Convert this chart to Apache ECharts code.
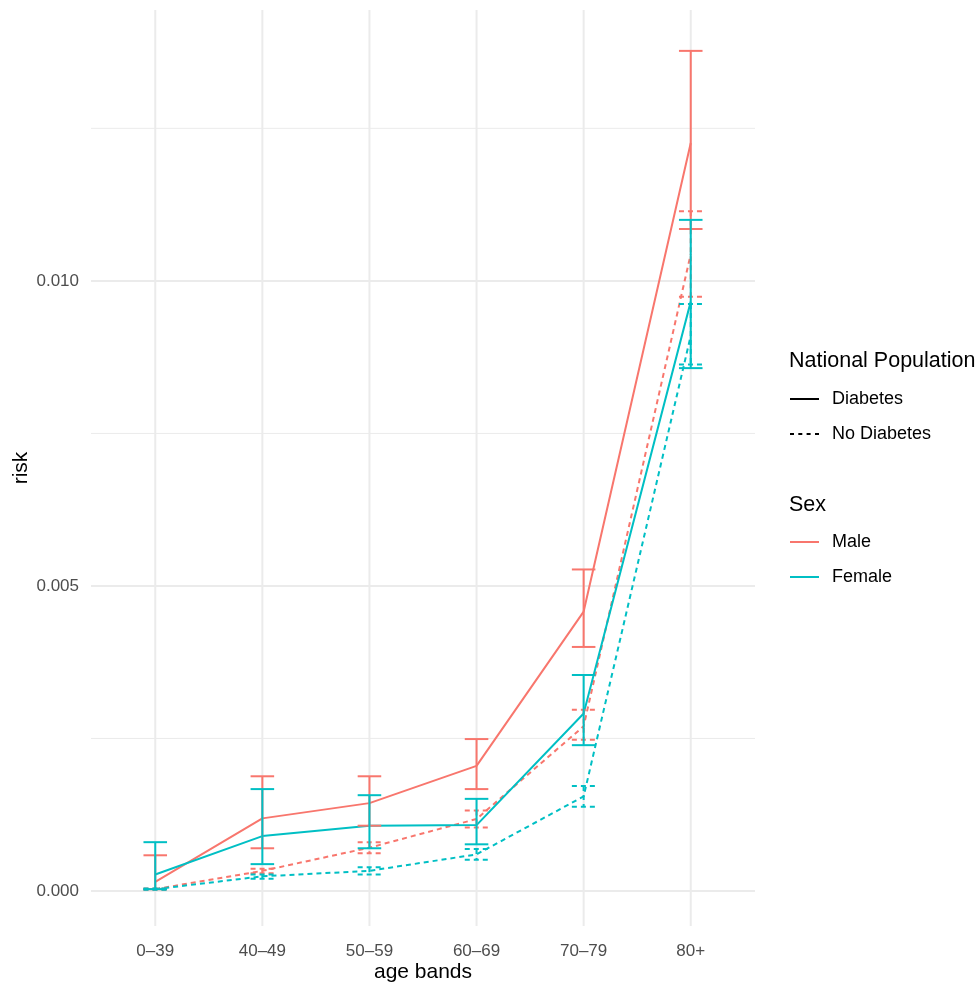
<!DOCTYPE html>
<html>
<head>
<meta charset="utf-8">
<script src="https://cdn.jsdelivr.net/npm/echarts@6/dist/echarts.min.js"></script>
<style>
  html, body { margin: 0; padding: 0; background: #ffffff; }
  #chart { width: 978px; height: 990px; }
</style>
</head>
<body>
<div id="chart"></div>
<script>
// ---------- data ----------
const categories = ['0\u201339', '40\u201349', '50\u201359', '60\u201369', '70\u201379', '80+'];
const yTickValues = [0, 0.005, 0.010];
const yMinorValues = [0.0025, 0.0075, 0.0125];

const maleDiabetes      = [0.00015, 0.00119, 0.00144, 0.00205, 0.00458, 0.01226];
const maleDiabetesLow   = [0.00003, 0.00070, 0.00107, 0.00167, 0.00400, 0.01085];
const maleDiabetesHigh  = [0.000585, 0.00188, 0.00188, 0.00249, 0.00527, 0.01377];

const femaleDiabetes     = [0.00027, 0.00090, 0.00107, 0.00108, 0.00291, 0.00966];
const femaleDiabetesLow  = [0.00003, 0.00044, 0.00070, 0.000765, 0.00239, 0.00857];
const femaleDiabetesHigh = [0.00080, 0.00167, 0.00157, 0.00151, 0.00354, 0.01100];

const maleNoDiabetes     = [0.00003, 0.00033, 0.00071, 0.00118, 0.00270, 0.01044];
const maleNoDiabetesLow  = [0.00002, 0.00029, 0.00062, 0.00104, 0.00248, 0.00974];
const maleNoDiabetesHigh = [0.00004, 0.000365, 0.00080, 0.00132, 0.00297, 0.01114];

const femaleNoDiabetes     = [0.00003, 0.00024, 0.00033, 0.00060, 0.00155, 0.00910];
const femaleNoDiabetesLow  = [0.00002, 0.00020, 0.00027, 0.00051, 0.00138, 0.00863];
const femaleNoDiabetesHigh = [0.00004, 0.00027, 0.00039, 0.00069, 0.00172, 0.00962];

// ---------- styling ----------
const RED = '#F8766D';
const TEAL = '#00BFC4';
const GRID = '#EBEBEB';
const DASH = [5, 4];
const LW = 2;
const X_MIN = 0.4, X_MAX = 6.6, Y_MIN = -0.000574, Y_MAX = 0.01444;
const FONT = 'Liberation Sans, Arial, sans-serif';

function linePts(vals) { return vals.map((v, i) => [i + 1, v]); }
function barPts(lo, hi) { return lo.map((v, i) => [i + 1, v, hi[i]]); }

function lineSeries(name, vals, color, dashed) {
  return {
    name: name, type: 'line', data: linePts(vals), symbol: 'none',
    lineStyle: { color: color, width: LW, type: dashed ? DASH : 'solid' },
    itemStyle: { color: color }, z: 3, silent: true, animation: false
  };
}

function errSeries(name, lo, hi, color, dashed) {
  return {
    name: name, type: 'custom', data: barPts(lo, hi), z: 4, silent: true, animation: false,
    renderItem: function (params, api) {
      const x = api.value(0);
      const top = api.coord([x, api.value(2)]);
      const bot = api.coord([x, api.value(1)]);
      const hw = api.size([0.11, 0])[0];
      const style = { stroke: color, lineWidth: LW, lineDash: dashed ? DASH : null, fill: null };
      return {
        type: 'group',
        children: [
          { type: 'line', shape: { x1: top[0], y1: top[1], x2: bot[0], y2: bot[1] }, style: style },
          { type: 'line', shape: { x1: top[0] - hw, y1: top[1], x2: top[0] + hw, y2: top[1] }, style: style },
          { type: 'line', shape: { x1: bot[0] - hw, y1: bot[1], x2: bot[0] + hw, y2: bot[1] }, style: style }
        ]
      };
    }
  };
}

// gridlines: [orientation (0 = horizontal, 1 = vertical), value, width]
const gridData = []
  .concat(yMinorValues.map(v => [0, v, 1]))
  .concat(yTickValues.map(v => [0, v, 2]))
  .concat(categories.map((c, i) => [1, i + 1, 2]));

const gridSeries = {
  name: 'grid', type: 'custom', data: gridData, z: 0, silent: true, animation: false,
  renderItem: function (params, api) {
    const o = api.value(0), v = api.value(1), w = api.value(2);
    let a, b;
    if (o === 0) { a = api.coord([X_MIN, v]); b = api.coord([X_MAX, v]); }
    else { a = api.coord([v, Y_MIN]); b = api.coord([v, Y_MAX]); }
    return { type: 'line', shape: { x1: a[0], y1: a[1], x2: b[0], y2: b[1] },
             style: { stroke: GRID, lineWidth: w, fill: null } };
  }
};

function legendDummy(name, color) {
  return { name: name, type: 'line', data: [], symbol: 'none',
           lineStyle: { color: color, width: LW }, itemStyle: { color: color } };
}

// legend key icons (line from 0..29 inside a 37x20 box; tiny corner anchors fix the box)
const ANCH = 'M0,0 h0.01 v0.01 h-0.01 Z M36.99,19.99 h0.01 v0.01 h-0.01 Z ';
const ICON_SOLID = 'path://' + ANCH + 'M0,9 H29 V11 H0 Z';
const ICON_DASH = 'path://' + ANCH + 'M0,9 H4 V11 H0 Z M8.3,9 H12.3 V11 H8.3 Z M16.6,9 H20.6 V11 H16.6 Z M25,9 H29 V11 H25 Z';

const chart = echarts.init(document.getElementById('chart'), null, { renderer: 'canvas' });

chart.setOption({
  backgroundColor: '#ffffff',
  animation: false,
  textStyle: { fontFamily: FONT },
  grid: { left: 91, right: 223, top: 10, bottom: 64, containLabel: false, outerBoundsMode: 'none' },
  title: [
    { text: 'National Population', left: 784, top: 345,
      textStyle: { fontSize: 21.5, fontWeight: 'normal', color: '#000', fontFamily: FONT } },
    { text: 'Sex', left: 784, top: 489,
      textStyle: { fontSize: 21.5, fontWeight: 'normal', color: '#000', fontFamily: FONT } }
  ],
  legend: [
    { data: [{ name: 'Diabetes', icon: ICON_SOLID, itemStyle: { color: '#000' } },
             { name: 'No Diabetes', icon: ICON_DASH, itemStyle: { color: '#000' } }],
      orient: 'vertical', left: 785, top: 384,
      itemWidth: 37, itemHeight: 20, itemGap: 15, selectedMode: false,
      textStyle: { fontSize: 18, color: '#000', fontFamily: FONT } },
    { data: [{ name: 'Male', icon: ICON_SOLID, itemStyle: { color: RED } },
             { name: 'Female', icon: ICON_SOLID, itemStyle: { color: TEAL } }],
      orient: 'vertical', left: 785, top: 527,
      itemWidth: 37, itemHeight: 20, itemGap: 15, selectedMode: false,
      textStyle: { fontSize: 18, color: '#000', fontFamily: FONT } }
  ],
  xAxis: {
    type: 'value', min: X_MIN, max: X_MAX,
    name: 'age bands', nameLocation: 'middle', nameGap: 36, nameMoveOverlap: false,
    nameTextStyle: { fontSize: 21, color: '#000' },
    axisLine: { show: false }, axisTick: { show: false }, splitLine: { show: false },
    axisLabel: {
      customValues: [1, 2, 3, 4, 5, 6], margin: 17, fontSize: 17, color: '#4D4D4D',
      formatter: function (v) { const i = Math.round(v) - 1; return categories[i] || ''; }
    }
  },
  yAxis: {
    type: 'value', min: Y_MIN, max: Y_MAX,
    name: 'risk', nameLocation: 'middle', nameGap: 59, nameRotate: 90, nameMoveOverlap: false,
    nameTextStyle: { fontSize: 21, color: '#000' },
    axisLine: { show: false }, axisTick: { show: false }, splitLine: { show: false },
    axisLabel: {
      customValues: yTickValues, margin: 12, fontSize: 17, color: '#4D4D4D',
      formatter: function (v) { return v.toFixed(3); }
    }
  },
  series: [
    gridSeries,
    lineSeries('Male Diabetes', maleDiabetes, RED, false),
    lineSeries('Male No Diabetes', maleNoDiabetes, RED, true),
    lineSeries('Female Diabetes', femaleDiabetes, TEAL, false),
    lineSeries('Female No Diabetes', femaleNoDiabetes, TEAL, true),
    errSeries('Male Diabetes CI', maleDiabetesLow, maleDiabetesHigh, RED, false),
    errSeries('Male No Diabetes CI', maleNoDiabetesLow, maleNoDiabetesHigh, RED, true),
    errSeries('Female Diabetes CI', femaleDiabetesLow, femaleDiabetesHigh, TEAL, false),
    errSeries('Female No Diabetes CI', femaleNoDiabetesLow, femaleNoDiabetesHigh, TEAL, true),
    legendDummy('Diabetes', '#000'),
    legendDummy('No Diabetes', '#000'),
    legendDummy('Male', RED),
    legendDummy('Female', TEAL)
  ]
});
</script>
</body>
</html>
